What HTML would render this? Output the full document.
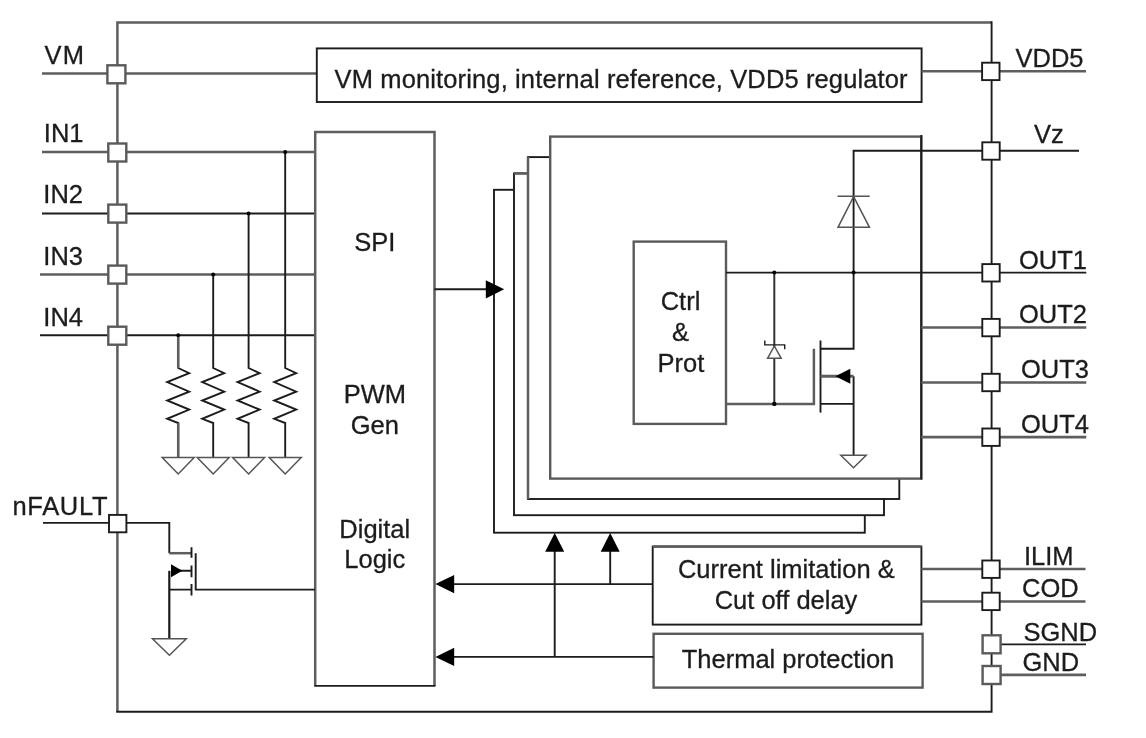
<!DOCTYPE html>
<html lang="en">
<head>
<meta charset="utf-8">
<title>Block diagram</title>
<style>
html,body{margin:0;padding:0;background:#fff;}
body{width:1146px;height:738px;overflow:hidden;}
svg{display:block;filter:grayscale(1) blur(0.45px);}
text{font-family:"Liberation Sans",Arial,sans-serif;font-size:25.5px;fill:#1c1c1c;stroke:#1c1c1c;stroke-width:0.3px;}
.g{stroke:#5e5e5e;stroke-width:2.5;fill:none;}
.k{stroke:#1c1c1c;stroke-width:1.9;fill:none;}
.gw{stroke:#5a5a5a;stroke-width:2.4;fill:#fff;}
.kw{stroke:#1c1c1c;stroke-width:1.9;fill:#fff;}
.t{stroke:#555;stroke-width:1.5;fill:#fff;}
.f{fill:#000;stroke:none;}
.c{text-anchor:middle;}
</style>
</head>
<body>
<svg width="1146" height="738" viewBox="0 0 1146 738">
<rect x="0" y="0" width="1146" height="738" fill="#fff"/>

<!-- outer border -->
<path class="g" d="M117.4 711.8 V22.4 H991.6"/>
<path class="k" d="M991.6 21.3 V711.8 H116.2"/>

<!-- left pin lines -->
<path class="g" d="M42 73.6 H317"/>
<path class="g" d="M42 152 H315"/>
<path class="k" d="M42 213.5 H315"/>
<path class="g" d="M40 274.4 H315"/>
<path class="k" d="M40 335.3 H315"/>
<path class="k" d="M43 522.9 H169.3 V553.2"/>

<!-- VM monitoring box -->
<rect class="kw" x="316.8" y="48.4" width="604.8" height="53.6"/>
<text x="334.6" y="88.2" textLength="573">VM monitoring, internal reference, VDD5 regulator</text>
<path class="g" d="M921.6 71.2 H1086"/>

<!-- SPI block -->
<path class="g" d="M315.2 685.9 V132 H434.5 V685.9" fill="#fff"/>
<path class="k" d="M314.3 685.9 H435.4"/>
<text class="c" x="374.8" y="251.4">SPI</text>
<text class="c" x="374.8" y="403.4">PWM</text>
<text class="c" x="374.8" y="434">Gen</text>
<text class="c" x="374.8" y="537.6">Digital</text>
<text class="c" x="374.8" y="567.9">Logic</text>

<!-- pull-down resistors -->
<g id="res">
<path class="k" d="M285.2 152 V368 l11 5.2 l-22 8.9 l22 9.5 l-22 8.9 l22 9.1 l-22 9.2 l11 4.2 V457.5"/>
<path class="k" d="M248.6 213.5 V368 l11 5.2 l-22 8.9 l22 9.5 l-22 8.9 l22 9.1 l-22 9.2 l11 4.2 V457.5"/>
<path class="k" d="M213.2 274.4 V368 l11 5.2 l-22 8.9 l22 9.5 l-22 8.9 l22 9.1 l-22 9.2 l11 4.2 V457.5"/>
<path class="k" d="M178.2 335.3 V368 l11 5.2 l-22 8.9 l22 9.5 l-22 8.9 l22 9.1 l-22 9.2 l11 4.2 V457.5"/>
<path class="g" d="M178.2 337 V368 M178.2 423 V457.5"/>
<circle class="f" cx="285.2" cy="152" r="2"/>
<circle class="f" cx="248.6" cy="213.5" r="2"/>
<circle class="f" cx="213.2" cy="274.4" r="2"/>
<circle class="f" cx="178.2" cy="335.3" r="2"/>
<path class="t" d="M269.2 457.5 h32 l-16 16.5 z"/>
<path class="t" d="M232.6 457.5 h32 l-16 16.5 z"/>
<path class="t" d="M197.2 457.5 h32 l-16 16.5 z"/>
<path class="t" d="M162.2 457.5 h32 l-16 16.5 z"/>
</g>

<!-- nFAULT mosfet -->
<path class="g" d="M169.3 553.2 H191"/>
<path class="k" d="M191.5 547.2 V557.7 M191.5 565.5 V577.3 M191.5 583.9 V595.6"/>
<path class="k" d="M195.7 553.2 V589.6 H315"/>
<path class="k" d="M169.3 589.6 H191.5 M171 570.8 H191.5"/>
<path class="k" d="M169.3 570.8 V638.8" style="stroke-width:2.2"/>
<path class="f" d="M171 564.3 L182.3 570.8 L171 577.3 z"/>
<path class="t" d="M152.5 638.8 h33.8 l-16.9 16.4 z"/>

<!-- stacked channel boxes -->
<rect class="kw" x="494" y="189.8" width="370.8" height="342.9"/>
<rect class="kw" x="514" y="173.4" width="370" height="341.8"/>
<path class="g" d="M514 173.4 H528"/>
<rect class="kw" x="528" y="157.1" width="371.3" height="341.9"/>
<path class="g" d="M528 499 V157.1"/>
<rect class="gw" x="550.2" y="136.6" width="371.1" height="342"/>
<path class="k" d="M921.3 135 V479.5"/>

<!-- SPI -> channels arrow -->
<path class="k" d="M434.5 289.3 H494"/>
<path class="f" d="M485.8 280.2 L504.2 289.3 L485.8 298.4 z"/>

<!-- inside front box -->
<rect class="gw" x="633.7" y="241.6" width="92.3" height="182.3"/>
<text class="c" x="680.5" y="310">Ctrl</text>
<text class="c" x="680.5" y="341.4">&amp;</text>
<text class="c" x="681" y="371.7">Prot</text>

<path class="k" d="M726 272.6 H1086.3"/>
<path class="k" d="M1079 150.8 H853.6 V348.8 H820.5"/>
<path class="k" d="M820.5 340.5 V412.6"/>
<path class="g" d="M813.9 348.8 V403.9 H726"/>
<path class="k" d="M820.5 403.9 H853.6"/>
<path class="k" d="M853.6 376.2 V455.2"/>
<path class="g" d="M820.5 376.2 H853.6" style="stroke-width:3"/>
<path class="f" d="M835.4 376.2 L850.3 368.7 L850.3 383.7 z"/>
<path class="t" d="M840.8 455.2 h25.4 l-12.7 12.5 z"/>
<!-- big diode -->
<path class="t" d="M837.5 196.3 H869.7 M853.6 196.6 L869.5 227.3 H838 z" style="fill:none"/>
<!-- zener -->
<path class="k" d="M774.3 272.6 V403.9" style="stroke:#333;stroke-width:2"/>
<path class="t" d="M774.3 346 L781.2 358.3 H767.6 z"/>
<path class="k" d="M764.8 340.5 V344.9 H784.7 V349.3" style="stroke-width:1.4"/>
<circle class="f" cx="774.3" cy="272.6" r="2"/>
<circle class="f" cx="853.6" cy="272.6" r="2"/>
<circle class="f" cx="774.3" cy="403.9" r="2.2"/>

<!-- right side lines -->
<path class="g" d="M921.3 327.4 H1086.3 M921.3 382.4 H1086.3"/>
<path class="g" d="M921.3 437.1 H1086.3" style="stroke-width:2.8"/>

<!-- current limitation / thermal -->
<rect class="kw" x="652.7" y="546.6" width="268.7" height="78"/>
<path class="g" d="M652.7 546.6 H921.4"/>
<text class="c" x="786.3" y="578">Current limitation &amp;</text>
<text class="c" x="786" y="609">Cut off delay</text>
<rect class="gw" x="653.6" y="633.8" width="269" height="53.8"/>
<text class="c" x="788" y="668.3">Thermal protection</text>
<path class="g" d="M921.4 569 H1085.5 M921.4 601.4 H1085.5"/>
<path class="k" d="M991 644.4 H1086"/>
<path class="g" d="M991 674.8 H1086" style="stroke-width:2.8"/>

<path class="k" d="M652.7 584.1 H450 M653.6 656.9 H450"/>
<path class="f" d="M435.4 584.1 L454.2 575 L454.2 593.2 z"/>
<path class="f" d="M435.4 656.9 L454.2 647.8 L454.2 666 z"/>
<path class="k" d="M554.7 656.9 V545 M610.2 584.1 V545"/>
<path class="f" d="M554.7 533 L545.2 551.7 H564.2 z"/>
<path class="f" d="M610.2 533 L600.7 551.7 H619.7 z"/>

<!-- pins -->
<g class="gw">
<rect x="107.4" y="65.3" width="18" height="18"/>
<rect x="108.3" y="143.5" width="18" height="18"/>
<rect x="108.3" y="204.6" width="18" height="18"/>
<rect x="108.3" y="265.6" width="18" height="18"/>
<rect x="108.3" y="326.7" width="18" height="18"/>
<rect x="982.6" y="635.3" width="18" height="18"/>
<rect x="982.6" y="666.0" width="18" height="18"/>
</g>
<g class="kw">
<rect x="109.0" y="514.9" width="17.4" height="17.4"/>
<rect x="982.1" y="62.7" width="17.4" height="17.4"/>
<rect x="982.3" y="142.3" width="17.4" height="17.4"/>
<rect x="982.3" y="264.1" width="17.4" height="17.4"/>
<rect x="982.3" y="318.9" width="17.4" height="17.4"/>
<rect x="982.3" y="373.8" width="17.4" height="17.4"/>
<rect x="982.3" y="428.5" width="17.4" height="17.4"/>
<rect x="982.3" y="560.5" width="17.4" height="17.4"/>
<rect x="982.3" y="592.7" width="17.4" height="17.4"/>
</g>

<!-- labels -->
<text x="44.6" y="63.5" textLength="39.3">VM</text>
<text x="43.8" y="141.5">IN1</text>
<text x="43.3" y="203.2">IN2</text>
<text x="43.3" y="264.5">IN3</text>
<text x="43.3" y="326.2">IN4</text>
<text x="12.5" y="514.8" textLength="95">nFAULT</text>
<text x="1015.5" y="66.6">VDD5</text>
<text x="1034" y="143.1">Vz</text>
<text x="1019" y="268.5">OUT1</text>
<text x="1019" y="323.1">OUT2</text>
<text x="1021" y="377.8">OUT3</text>
<text x="1021" y="432.6">OUT4</text>
<text x="1024" y="564.6">ILIM</text>
<text x="1022" y="597.4">COD</text>
<text x="1023.5" y="640.6">SGND</text>
<text x="1022.5" y="670.7">GND</text>
</svg>
</body>
</html>
